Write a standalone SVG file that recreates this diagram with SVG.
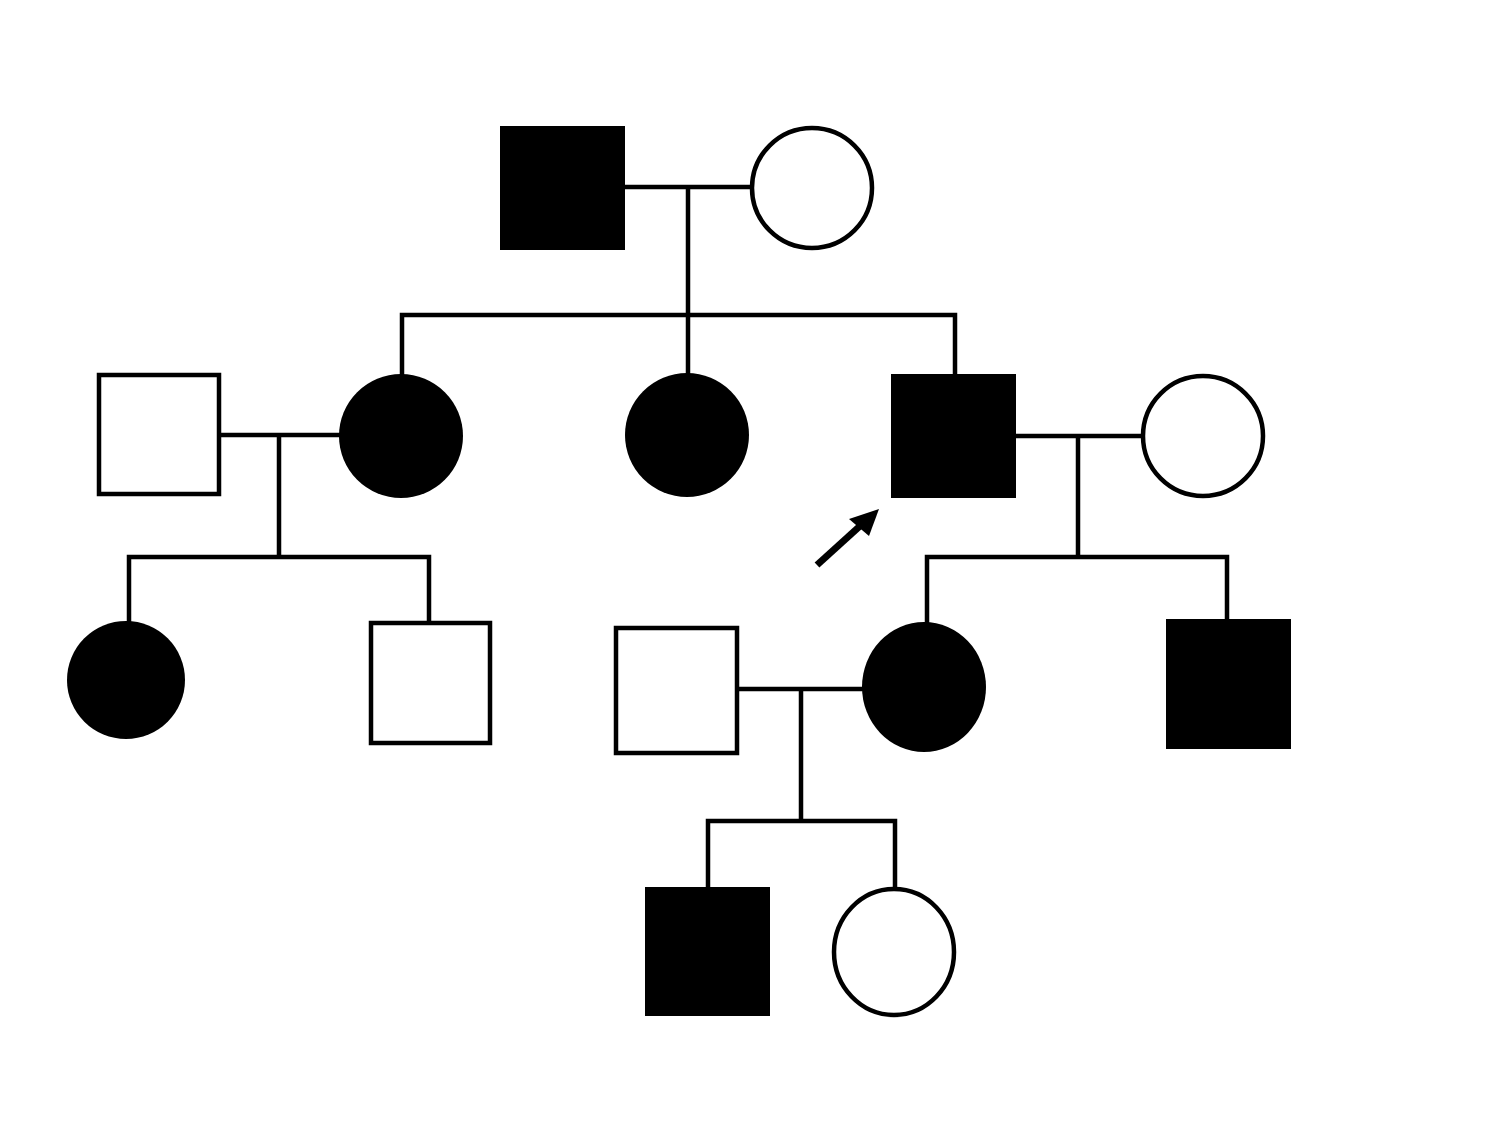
<svg xmlns="http://www.w3.org/2000/svg" width="1500" height="1125" viewBox="0 0 1500 1125">
<style>
.line{stroke:#000;stroke-width:4.5;fill:none;stroke-linecap:square}
.open{fill:#fff;stroke:#000;stroke-width:4.5}
.aff{fill:#000;stroke:none}
</style>
<rect width="1500" height="1125" fill="#fff"/>
<g id="connectors">
<path class="line" d="M625 187H752M688 187V315M402 315H955M402 315V374M688 315V373M955 315V374"/>
<path class="line" d="M219 435H339M279 435V557M129 557H429M129 557V620M429 557V623"/>
<path class="line" d="M1016 436H1143M1078 436V557M927 557H1227M927 557V622M1227 557V620"/>
<path class="line" d="M737 689H862M801 689V821M708 821H895M708 821V887M895 821V889"/>
</g>
<g id="I-1"><rect class="aff" x="500" y="126" width="125" height="124"/></g>
<g id="I-2"><circle class="open" cx="812" cy="188" r="60"/></g>
<g id="II-1"><rect class="open" x="99" y="375" width="120" height="119"/></g>
<g id="II-2"><circle class="aff" cx="401" cy="436" r="62"/></g>
<g id="II-3"><circle class="aff" cx="687" cy="435" r="62"/></g>
<g id="II-4"><rect class="aff" x="891" y="374" width="125" height="124"/></g>
<g id="II-5"><circle class="open" cx="1203" cy="436" r="60"/></g>
<g id="III-1"><circle class="aff" cx="126" cy="680" r="59"/></g>
<g id="III-2"><rect class="open" x="371" y="623" width="119" height="120"/></g>
<g id="III-3"><rect class="open" x="616" y="628" width="121" height="125"/></g>
<g id="III-4"><ellipse class="aff" cx="924" cy="687" rx="62" ry="65"/></g>
<g id="III-5"><rect class="aff" x="1166" y="619" width="125" height="130"/></g>
<g id="IV-1"><rect class="aff" x="645" y="887" width="125" height="129"/></g>
<g id="IV-2"><ellipse class="open" cx="894" cy="952" rx="60" ry="63"/></g>
<g id="proband-arrow">
<line x1="817" y1="565" x2="860" y2="526" stroke="#000" stroke-width="7"/>
<polygon points="879,509 849,519 869,536" fill="#000"/>
</g>
</svg>
